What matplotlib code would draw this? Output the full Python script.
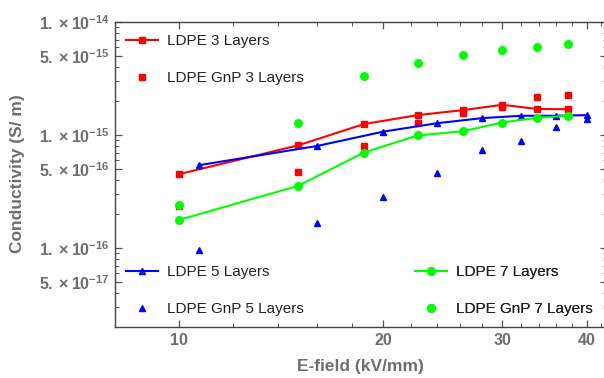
import numpy as np
import matplotlib
matplotlib.use('Agg')
import matplotlib.pyplot as plt
from matplotlib.lines import Line2D
from matplotlib.ticker import FixedLocator, NullFormatter

plt.rcParams['font.family'] = ['Liberation Sans', 'DejaVu Sans']
plt.rcParams['mathtext.fontset'] = 'custom'
plt.rcParams['mathtext.rm'] = 'Liberation Sans:bold'
plt.rcParams['mathtext.bf'] = 'Liberation Sans:bold'

# field values (kV/mm)
e_37 = [10, 15, 18.75, 22.5, 26.25, 30, 33.75, 37.5]
e_5 = [10.7, 16, 20, 24, 28, 32, 36, 40]

# conductivity (S/m)
ldpe_3 = [4.5e-16, 8.1e-16, 1.25e-15, 1.5e-15, 1.66e-15, 1.85e-15, 1.7e-15, 1.69e-15]
gnp_3 = [2.35e-16, 4.7e-16, 8.0e-16, 1.27e-15, 1.58e-15, 1.78e-15, 2.15e-15, 2.27e-15]
ldpe_5 = [5.4e-16, 8.0e-16, 1.07e-15, 1.27e-15, 1.41e-15, 1.48e-15, 1.48e-15, 1.5e-15]
gnp_5 = [9.6e-17, 1.66e-16, 2.8e-16, 4.6e-16, 7.3e-16, 8.9e-16, 1.17e-15, 1.38e-15]
ldpe_7 = [1.77e-16, 3.55e-16, 7.0e-16, 9.9e-16, 1.08e-15, 1.29e-15, 1.42e-15, 1.48e-15]
gnp_7 = [2.4e-16, 1.29e-15, 3.3e-15, 4.3e-15, 5.1e-15, 5.6e-15, 6.05e-15, 6.4e-15]

x_major = [10, 20, 30, 40]
x_minor = [8, 12, 14, 16, 18, 22, 24, 26, 28, 32, 34, 36, 38, 42]
y_major = [5e-17, 1e-16, 5e-16, 1e-15, 5e-15, 1e-14]
y_labels = [r'$5.\times10^{-17}$', r'$1.\times10^{-16}$', r'$5.\times10^{-16}$',
            r'$1.\times10^{-15}$', r'$5.\times10^{-15}$', r'$1.\times10^{-14}$']

red, blue, green = '#ff0000', '#0000ff', '#00ff00'
gray = '#6e6e6e'

W, H = 604, 378
fig = plt.figure(figsize=(W / 100, H / 100), dpi=100)
ax = fig.add_axes([115 / W, 1 - 327 / H, 492 / W, 305 / H])

ax.plot(e_37, ldpe_3, '-s', color=red, lw=1.5, ms=4, zorder=3)
ax.plot(e_37, gnp_3, 's', color=red, ms=4, ls='none', zorder=3)
ax.plot(e_5, ldpe_5, '-^', color=blue, lw=1.5, ms=4.5, zorder=3)
ax.plot(e_5, gnp_5, '^', color=blue, ms=4.5, ls='none', zorder=3)
ax.plot(e_37, ldpe_7, '-o', color=green, lw=1.5, ms=5.5, zorder=4)
ax.plot(e_37, gnp_7, 'o', color=green, ms=5.5, ls='none', zorder=4)

ax.set_xscale('log')
ax.set_yscale('log')
ax.set_xlim(8.05, 42.8)
ax.set_ylim(2e-17, 1e-14)

ax.xaxis.set_major_locator(FixedLocator(x_major))
ax.xaxis.set_minor_locator(FixedLocator(x_minor))
ax.set_xticklabels([str(v) for v in x_major])
ax.xaxis.set_minor_formatter(NullFormatter())

ax.yaxis.set_major_locator(FixedLocator(y_major))
ax.set_yticklabels(y_labels)
ax.yaxis.set_minor_locator(FixedLocator(
    [m * 10.0 ** d for d in (-17, -16, -15) for m in (2, 3, 4, 6, 7, 8, 9)]))
ax.yaxis.set_minor_formatter(NullFormatter())

ax.tick_params(which='both', direction='in', top=True, right=True, colors='#555555')
ax.tick_params(which='major', length=5, width=0.9, labelsize=11.5, labelcolor=gray, pad=4)
ax.tick_params(which='minor', length=3, width=0.7)
for lab in ax.get_xticklabels():
    lab.set_fontweight('bold')
for s in ax.spines.values():
    s.set_color('#444444')
    s.set_linewidth(1.0)

fig.text(18 / W, 1 - 174 / H, 'Conductivity (S/ m)', rotation=90, ha='center', va='center',
         fontsize=12.5, fontweight='bold', color=gray)
fig.text(360 / W, 1 - 367 / H, 'E-field (kV/mm)', ha='center', va='center',
         fontsize=12.5, fontweight='bold', color=gray)


def add_legend(color, marker, ms, labels, x, y):
    handles = [Line2D([], [], color=color, marker=marker, ms=ms, lw=1.5),
               Line2D([], [], color=color, marker=marker, ms=ms, ls='none')]
    leg = ax.legend(handles, labels, loc='upper left', bbox_to_anchor=(x / W, 1 - y / H),
                    bbox_transform=fig.transFigure, frameon=False, fontsize=11,
                    borderpad=0, borderaxespad=0, handlelength=2.1, handletextpad=0.6,
                    labelspacing=1.5)
    for t in leg.get_texts():
        t.set_color('#222222')
    ax.add_artist(leg)


add_legend(red, 's', 4, ['LDPE 3 Layers', 'LDPE GnP 3 Layers'], 126, 34)
add_legend(blue, '^', 4.5, ['LDPE 5 Layers', 'LDPE GnP 5 Layers'], 126, 265)
add_legend(green, 'o', 5.5, ['LDPE 7 Layers', 'LDPE GnP 7 Layers'], 415, 265)

fig.savefig('out.png', dpi=100)
